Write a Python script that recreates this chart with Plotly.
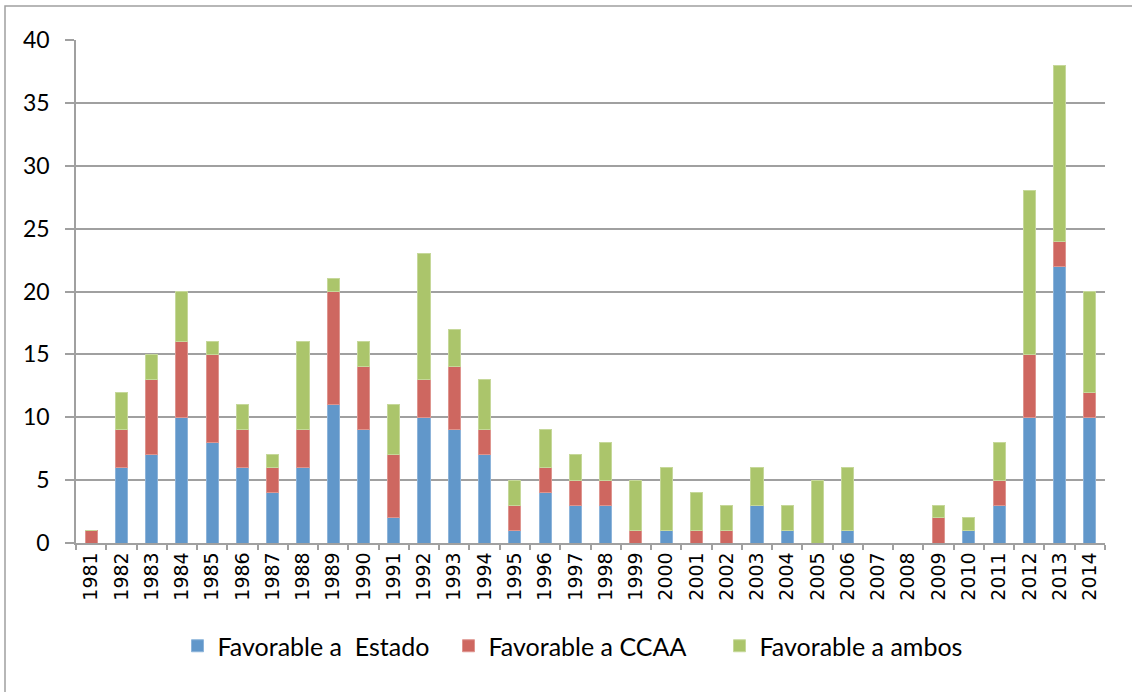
import plotly.graph_objects as go

years = [str(y) for y in range(1981, 2015)]
estado = [0, 6, 7, 10, 8, 6, 4, 6, 11, 9, 2, 10, 9, 7, 1, 4, 3, 3, 0, 1, 0, 0, 3, 1, 0, 1, 0, 0, 0, 1, 3, 10, 22, 10]
ccaa   = [1, 3, 6, 6, 7, 3, 2, 3, 9, 5, 5, 3, 5, 2, 2, 2, 2, 2, 1, 0, 1, 1, 0, 0, 0, 0, 0, 0, 2, 0, 2, 5, 2, 2]
ambos  = [0, 3, 2, 4, 1, 2, 1, 7, 1, 2, 4, 10, 3, 4, 2, 3, 2, 3, 4, 5, 3, 2, 3, 2, 5, 5, 0, 0, 1, 1, 3, 13, 14, 8]

series = [
    ("Favorable a\u00a0 Estado", estado, "#6197CA", "#8DB4DA"),
    ("Favorable a CCAA", ccaa, "#CE6760", "#DE958F"),
    ("Favorable a ambos", ambos, "#ABC56B", "#C6D89A"),
]

fig = go.Figure()
for name, vals, col, edge in series:
    fig.add_trace(go.Bar(
        x=years, y=vals, name=name,
        marker=dict(color=col, line=dict(color=edge, width=1)),
    ))

PW, PH = 1029, 503
fig.update_layout(
    barmode="stack",
    bargap=0.6,
    width=1132, height=692,
    paper_bgcolor="white", plot_bgcolor="white",
    margin=dict(l=76, r=27, t=40, b=149),
    font=dict(family="Lato", color="black"),
    showlegend=True,
    legend=dict(
        orientation="h", x=(584 - 76) / PW, xanchor="center", y=-103 / PH, yanchor="middle",
        font=dict(family="Lato", size=25, color="black"),
        itemwidth=30, traceorder="normal",
        entrywidth=226, entrywidthmode="pixels",
    ),
    xaxis=dict(
        type="category", tickangle=-90,
        tickfont=dict(family="DejaVu Sans", size=19, color="black"),
        showline=True, linecolor="#A0A0A0", linewidth=1.5,
        ticks="outside", tickson="boundaries", ticklen=5, tickcolor="#A0A0A0", tickwidth=1.5,
        showgrid=False, fixedrange=True, ticklabelstandoff=0,
    ),
    yaxis=dict(
        range=[0, 40], tickvals=[0, 5, 10, 15, 20, 25, 30, 35, 40],
        tickfont=dict(family="Lato", size=23, color="black"),
        showline=True, linecolor="#A0A0A0", linewidth=1.5,
        ticks="outside", ticklen=9, tickcolor="#A0A0A0", tickwidth=1.5,
        showgrid=True, gridcolor="#A0A0A0", gridwidth=1.5,
        zeroline=False, ticklabelstandoff=11,
    ),
    shapes=[dict(type="rect", xref="paper", yref="paper",
                 x0=(5 - 76) / PW, x1=(1140 - 76) / PW, y0=-(700 - 543) / PH, y1=1 + (40 - 6) / PH,
                 line=dict(color="#A0A0A0", width=1.5), fillcolor="rgba(0,0,0,0)", layer="below")],
)

fig.write_html("out.html", config={"displayModeBar": False},
               post_script="document.body.style.margin='0';document.body.style.overflow='hidden';")
